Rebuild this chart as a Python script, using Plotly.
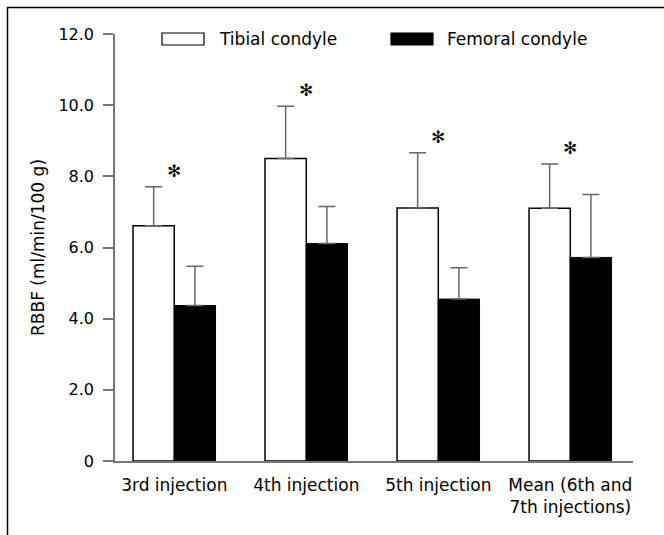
import plotly.graph_objects as go

categories = ["3rd injection", "4th injection", "5th injection", "Mean (6th and<br>7th injections)"]
series_names = ["Tibial condyle", "Femoral condyle"]
tibial = [6.61, 8.50, 7.11, 7.10]
tibial_err = [1.10, 1.47, 1.55, 1.25]
femoral = [4.37, 6.11, 4.55, 5.72]
femoral_err = [1.10, 1.04, 0.88, 1.77]
significant = [True, True, True, True]
ytick_vals = [0, 2, 4, 6, 8, 10, 12]
ytick_text = ["0", "2.0", "4.0", "6.0", "8.0", "10.0", "12.0"]

W, H = 664, 535
ML, MR, MT, MB = 115, 31, 34, 74
PW, PH = W - ML - MR, H - MT - MB

def px(x):
    return (x - ML) / PW

def py(y):
    return (H - MB - y) / PH

FONT = "DejaVu Sans"
GRAY = "#777777"

fig = go.Figure()
fig.add_trace(go.Bar(
    x=categories, y=tibial, name=series_names[0],
    marker=dict(color="white", line=dict(color="black", width=1.5)),
    error_y=dict(type="data", symmetric=False, array=tibial_err,
                 arrayminus=[0] * len(tibial), color="#666666", thickness=1.5, width=8.5),
))
fig.add_trace(go.Bar(
    x=categories, y=femoral, name=series_names[1],
    marker=dict(color="black", line=dict(color="black", width=1)),
    error_y=dict(type="data", symmetric=False, array=femoral_err,
                 arrayminus=[0] * len(femoral), color="#666666", thickness=1.5, width=8.5),
))

for c, t, e, s in zip(categories, tibial, tibial_err, significant):
    if s:
        fig.add_annotation(x=c, y=t + e, text="✻", showarrow=False,
                           yanchor="middle", yshift=16,
                           font=dict(family=FONT, size=17, color="black"))

# legend drawn manually (wide swatches)
legend_items = [
    (162, 204, 217, "white"),
    (391, 433, 445, "black"),
]
for name, (bx0, bx1, tx, col) in zip(series_names, legend_items):
    fig.add_shape(type="rect", xref="paper", yref="paper",
                  x0=px(bx0), x1=px(bx1), y0=py(45), y1=py(33),
                  fillcolor=col, line=dict(color="black", width=1.2))
    fig.add_annotation(xref="paper", yref="paper", x=px(tx), y=py(38.5),
                       text=name, showarrow=False, xanchor="left", yanchor="middle",
                       font=dict(family=FONT, size=17, color="black"))

# frame lines (top and left)
fig.add_shape(type="line", xref="paper", yref="paper",
              x0=px(7), x1=px(664), y0=py(7.5), y1=py(7.5),
              line=dict(color="black", width=1.5), layer="above")
fig.add_shape(type="line", xref="paper", yref="paper",
              x0=px(7.5), x1=px(7.5), y0=py(7), y1=py(535),
              line=dict(color="black", width=1.5), layer="above")

fig.update_layout(
    width=W, height=H,
    margin=dict(l=ML, r=MR, t=MT, b=MB, pad=0, autoexpand=False),
    paper_bgcolor="white", plot_bgcolor="white",
    barmode="group", bargap=0.375, bargroupgap=0,
    showlegend=False,
    font=dict(family=FONT, size=16, color="black"),
)
fig.update_xaxes(
    range=[-0.449, 3.475], showline=True, linecolor=GRAY, linewidth=1.5,
    ticks="", showgrid=False, zeroline=False, automargin=False,
    ticklabelstandoff=8,
    tickfont=dict(family=FONT, size=17, color="black"),
)
fig.update_yaxes(
    range=[0, 12], tickvals=ytick_vals, ticktext=ytick_text,
    showline=True, linecolor=GRAY, linewidth=1.5,
    ticks="outside", ticklen=10, tickcolor=GRAY, tickwidth=1.5,
    showgrid=False, zeroline=False, ticklabelstandoff=6, automargin=False,
    tickfont=dict(family=FONT, size=16, color="black"),
    title=dict(text="RBBF (ml/min/100 g)", font=dict(family=FONT, size=17, color="black"), standoff=9),
)

fig.write_html(
    "out.html",
    config={"displayModeBar": False},
    post_script="document.body.style.margin='0';document.body.style.padding='0';"
                "document.documentElement.style.overflow='hidden';",
)
